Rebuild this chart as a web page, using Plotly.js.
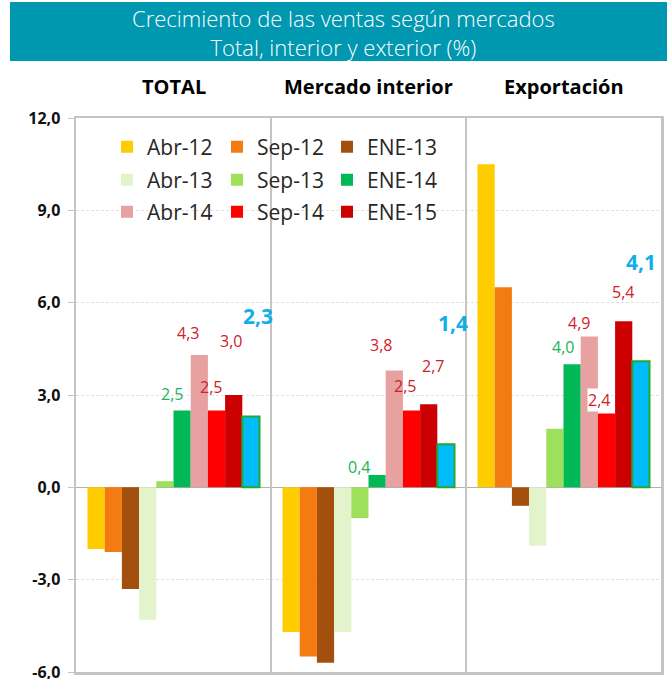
<!DOCTYPE html>
<html><head><meta charset="utf-8">
<script src="https://cdn.plot.ly/plotly-3.0.1.min.js"></script>
<style>html,body{margin:0;padding:0;background:#fff}#chart{width:667px;height:679px}</style>
</head><body><div id="chart"></div>
<script>
// ---- data ----
const titleLines = ["Crecimiento de las ventas según mercados", "Total, interior y exterior (%)"];
const categories = ["TOTAL", "Mercado interior", "Exportación"];
const seriesNames = ["Abr-12", "Sep-12", "ENE-13", "Abr-13", "Sep-13", "ENE-14", "Abr-14", "Sep-14", "ENE-15", "Último"];
const abr12 = [-2.0, -4.7, 10.5];
const sep12 = [-2.1, -5.5, 6.5];
const ene13 = [-3.3, -5.7, -0.6];
const abr13 = [-4.3, -4.7, -1.9];
const sep13 = [0.2, -1.0, 1.9];
const ene14 = [2.5, 0.4, 4.0];
const abr14 = [4.3, 3.8, 4.9];
const sep14 = [2.5, 2.5, 2.4];
const ene15 = [3.0, 2.7, 5.4];
const ultimo = [2.3, 1.4, 4.1];
const yTicks = [-6, -3, 0, 3, 6, 9, 12];
const yTickText = ["-6,0", "-3,0", "0,0", "3,0", "6,0", "9,0", "12,0"];

const seriesValues = [abr12, sep12, ene13, abr13, sep13, ene14, abr14, sep14, ene15, ultimo];

// ---- styles ----
const colors = ["#FFCC00", "#F47A12", "#A3500F", "#E3F3CB", "#9EE05A", "#00B956", "#E6A1A0", "#FF0000", "#CC0000", "#00BDFA"];
const labelColors = {5: "#22B25A", 6: "#D0202A", 7: "#D0202A", 8: "#D0202A", 9: "#10AEEA"};
// label offsets [group][series] -> [dx, dy] in px
const labelShift = [
  {5: [-10, 16], 6: [-11, 22], 7: [-6, 23], 8: [-3, 54], 9: [7, 101]},
  {5: [-18, 8], 6: [-13, 25], 7: [-7, 24], 8: [4, 38], 9: [7, 121]},
  {5: [-9, 17], 6: [-10, 14], 7: [-8, 13], 8: [-1, 29], 9: [0, 99]}
];
const bargap = 0.118;
const nSeries = seriesNames.length;
const legendIds = ["legend", "legend2", "legend3"];

const fmt = v => v.toFixed(1).replace('.', ',');

const traces = seriesValues.map((vals, i) => ({
  type: 'bar',
  x: categories,
  y: vals,
  name: seriesNames[i],
  marker: {
    color: colors[i],
    line: i === 9 ? {color: '#22A832', width: 2} : {width: 0}
  },
  showlegend: i < 9,
  legend: legendIds[Math.floor(i / 3)],
  hoverinfo: 'skip'
}));

const annotations = [{
  xref: 'paper', yref: 'paper', x: (343 - 76) / 585, y: (672 - 32) / 554,
  xanchor: 'center', yanchor: 'middle', showarrow: false,
  text: titleLines.join('<br>'),
  font: {family: 'Open Sans', size: 22, color: '#ffffff', weight: 300}
}];
categories.forEach((c, g) => {
  annotations.push({
    xref: 'x', yref: 'paper', x: g, y: (672 - 86) / 554,
    text: '<b>' + c + '</b>', showarrow: false, yanchor: 'middle',
    font: {family: 'Open Sans', size: 20, color: '#000'}
  });
  Object.keys(labelShift[g]).forEach(k => {
    const i = +k;
    const xpos = g - 0.5 + bargap / 2 + (1 - bargap) * (i + 0.5) / nSeries;
    const val = seriesValues[i][g];
    annotations.push({
      xref: 'x', yref: 'y', x: xpos, y: val,
      text: i === 9 ? '<b>' + fmt(val) + '</b>' : fmt(val),
      showarrow: false, xanchor: 'center', yanchor: 'middle',
      xshift: labelShift[g][i][0], yshift: labelShift[g][i][1],
      bgcolor: (g === 2 && i === 7) ? '#ffffff' : 'rgba(0,0,0,0)',
      borderpad: 0,
      font: {family: 'Open Sans', size: i === 9 ? 21 : 16, color: labelColors[i]}
    });
  });
});

const legendBase = {
  orientation: 'h', xanchor: 'left', yanchor: 'middle', x: 0.053,
  entrywidth: 65, entrywidthmode: 'pixels',
  bgcolor: 'rgba(0,0,0,0)', borderwidth: 0,
  font: {family: 'Open Sans', size: 21, color: '#262626'}
};

const layout = {
  width: 667, height: 679,
  margin: {l: 76, r: 6, t: 118, b: 7},
  paper_bgcolor: '#fff', plot_bgcolor: '#fff',
  separators: ', ',
  barmode: 'group', bargap: bargap, bargroupgap: 0,
  xaxis: {
    type: 'category', showticklabels: false, ticks: '',
    showline: true, mirror: true, linecolor: '#c4c4c4', linewidth: 2.5,
    showgrid: false, zeroline: false, fixedrange: true
  },
  yaxis: {
    range: [-6, 12], tickvals: yTicks, ticktext: yTickText,
    ticklabeloverflow: 'allow',
    ticks: 'outside', ticklen: 6, tickcolor: '#c4c4c4', tickwidth: 1,
    ticklabelstandoff: 4,
    tickfont: {family: 'Open Sans', size: 16, color: '#111', weight: 'bold'},
    showline: true, mirror: true, linecolor: '#c4c4c4', linewidth: 2.5,
    showgrid: true, gridcolor: '#e2e2e2', griddash: '3px,2px', gridwidth: 1,
    zeroline: true, zerolinecolor: '#b0b0b0', zerolinewidth: 1.5,
    fixedrange: true
  },
  legend: Object.assign({}, legendBase, {y: (672 - 147) / 554}),
  legend2: Object.assign({}, legendBase, {y: (672 - 180) / 554}),
  legend3: Object.assign({}, legendBase, {y: (672 - 212) / 554}),
  shapes: [
    {type: 'rect', xref: 'paper', yref: 'paper', layer: 'below',
     x0: (10 - 76) / 585, x1: (667 - 76) / 585, y0: (672 - 61) / 554, y1: (672 - 2) / 554,
     fillcolor: '#0097B0', line: {width: 0}},
    {type: 'line', xref: 'x', yref: 'paper', x0: 0.5, x1: 0.5, y0: 0, y1: 1,
     line: {color: '#c4c4c4', width: 2}},
    {type: 'line', xref: 'x', yref: 'paper', x0: 1.5, x1: 1.5, y0: 0, y1: 1,
     line: {color: '#c4c4c4', width: 2}}
  ],
  annotations: annotations
};

Plotly.newPlot('chart', traces, layout, {displayModeBar: false, staticPlot: true});
</script>
</body></html>
